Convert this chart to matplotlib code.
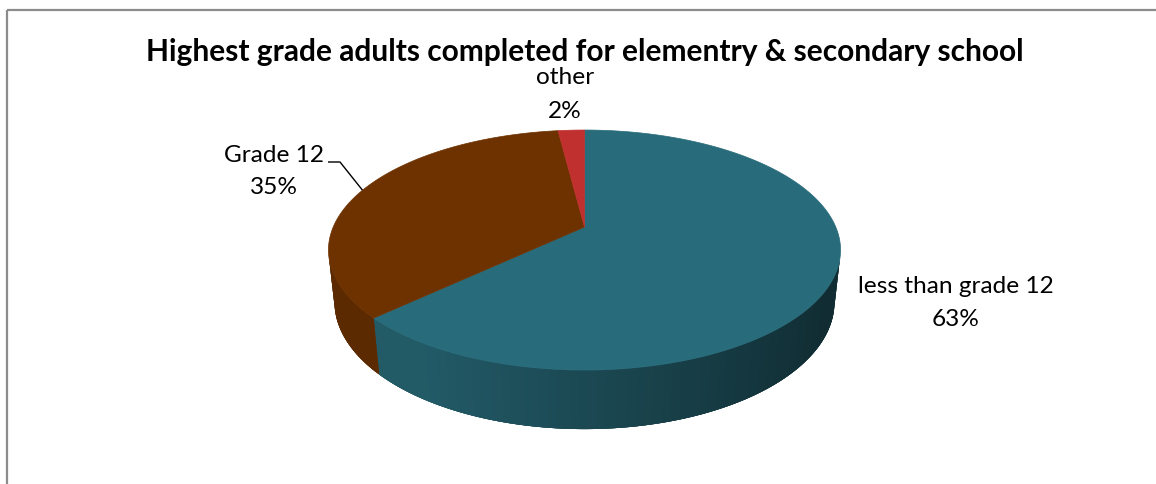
import numpy as np
import matplotlib
matplotlib.use("Agg")
import matplotlib.pyplot as plt
from matplotlib.patches import Polygon, Rectangle
from matplotlib.colors import to_rgb

# --- data -------------------------------------------------------------
title = "Highest grade adults completed for elementry & secondary school"
categories = ["less than grade 12", "Grade 12", "other"]
values = [63, 35, 2]
top_colors = ["#286B7A", "#6E3200", "#C0302F"]

# --- layout (pixel units) --------------------------------------------
W, H = 1156, 485
CX, CY = 584.5, 228.0          # screen position of the pie centre
FOCAL = 1162.4                 # projection scale
DIST = 4.626                   # camera distance (pie radius = 1)
SIN_E, COS_E = 0.46, 0.888     # camera elevation
DEPTH = 0.235                  # pie thickness (pie radius = 1)

# label anchors: (x centre, first baseline, second baseline)
label_pos = {
    "less than grade 12": (956, 293, 326),
    "Grade 12": (274, 162, 194),
    "other": (565, 84, 118),
}
leader_anchor = [(328, 163), (340, 163)]

plt.rcParams["font.family"] = ["Lato", "DejaVu Sans"]

fig = plt.figure(figsize=(W / 100, H / 100), dpi=100)
ax = fig.add_axes([0, 0, 1, 1])
ax.set_xlim(0, W)
ax.set_ylim(H, 0)
ax.axis("off")


def project(X, Y, Z):
    """Perspective projection of a point on the pie (radius 1)."""
    xc = X
    yc = Y * SIN_E + Z * COS_E
    zc = DIST + Y * COS_E - Z * SIN_E
    return CX + FOCAL * xc / zc, CY - FOCAL * yc / zc


def rim(theta_deg, Z):
    t = np.radians(theta_deg)
    return project(np.sin(t), np.cos(t), Z)


def wall(a, b, m=8):
    arc = np.linspace(a, b, m)
    return [rim(t, 0) for t in arc] + [rim(t, -DEPTH) for t in arc[::-1]]


def light(theta_deg):
    return np.clip(0.68 - 0.30 * np.sin(np.radians(theta_deg)), 0.42, 0.84)


def shade(rgb, k):
    return tuple(min(1.0, c * k) for c in rgb)


total = float(sum(values))
spans = [v / total * 360.0 for v in values]
starts = np.concatenate([[0.0], np.cumsum(spans)[:-1]])

# the outer wall faces the camera where cos(theta) < -1 / (DIST * COS_E)
vis_half = np.degrees(np.arccos(-1.0 / (DIST * COS_E)))
vis_lo, vis_hi = vis_half, 360.0 - vis_half

# side walls: a solid underlay per slice, then overlapping strips that
# carry the lighting gradient
for start, span, col in zip(starts, spans, top_colors):
    lo, hi = max(start, vis_lo), min(start + span, vis_hi)
    if hi <= lo:
        continue
    base = to_rgb(col)
    under = shade(base, light(0.5 * (lo + hi)))
    ax.add_patch(Polygon(wall(lo, hi, max(8, int(hi - lo) * 2)), closed=True,
                         facecolor=under, edgecolor="none", linewidth=0))
    n = max(3, int((hi - lo) * 2))
    th = np.linspace(lo, hi, n)
    step = th[1] - th[0]
    for a, b in zip(th[:-1], th[1:]):
        c = shade(base, light(0.5 * (a + b)))
        ax.add_patch(Polygon(wall(a, min(b + 2.0 * step, hi), 5), closed=True,
                             facecolor=c, edgecolor="none", linewidth=0))

# top faces
apex = project(0.0, 0.0, 0.0)
for start, span, col in zip(starts, spans, top_colors):
    th = np.linspace(start, start + span, max(3, int(span * 3)))
    pts = [apex] + [rim(t, 0) for t in th]
    ax.add_patch(Polygon(pts, closed=True, facecolor=col, edgecolor=col,
                         linewidth=0.5))

# title
ax.text(CX, 61, title, ha="center", va="baseline", fontsize=21.5,
        fontweight="bold", color="black")

# data labels
for cat, v in zip(categories, values):
    x, b1, b2 = label_pos[cat]
    pct = f"{round(v / total * 100):.0f}%"
    ax.text(x, b1, cat, ha="center", va="baseline", fontsize=17.6, color="black")
    ax.text(x, b2, pct, ha="center", va="baseline", fontsize=17.6, color="black")

# leader line for the "Grade 12" label to its slice rim midpoint
gi = categories.index("Grade 12")
tip = rim(starts[gi] + spans[gi] / 2, 0)
lx = [p[0] for p in leader_anchor] + [tip[0]]
ly = [p[1] for p in leader_anchor] + [tip[1]]
ax.plot(lx, ly, color="black", linewidth=1.0, solid_capstyle="butt")

# chart frame
ax.add_patch(Rectangle((7, 11), W + 50, H + 50, fill=False,
                       edgecolor="#8C8C8C", linewidth=1.6, clip_on=True))

fig.savefig("out.png", dpi=100, facecolor="white")
